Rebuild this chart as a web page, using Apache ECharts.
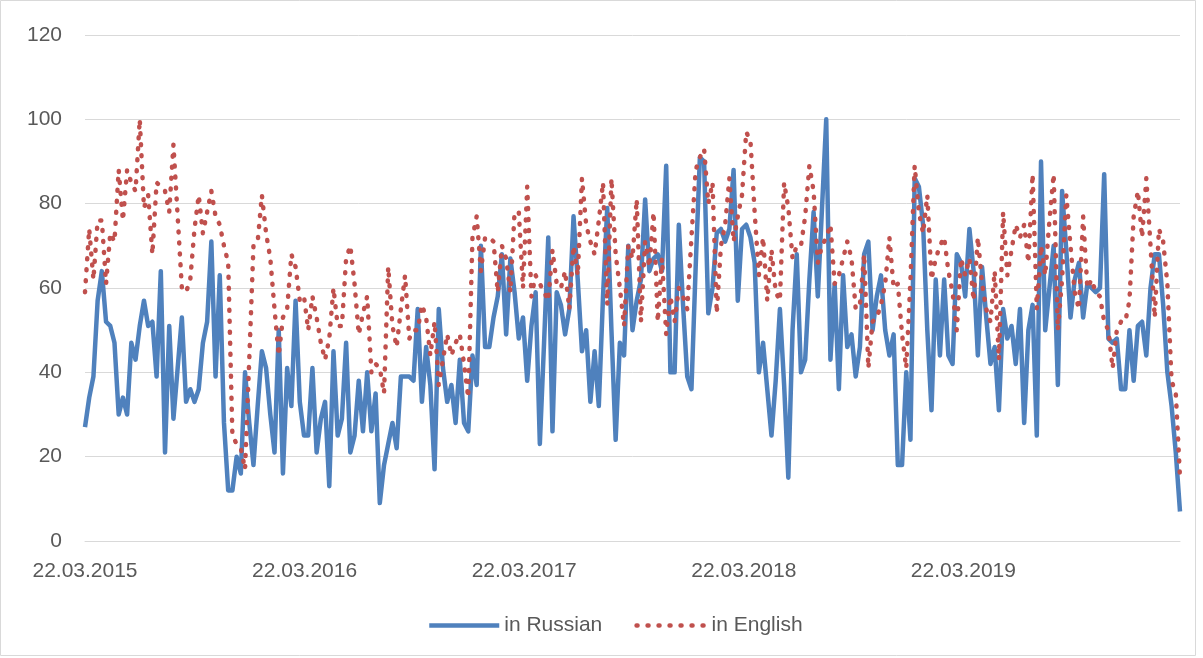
<!DOCTYPE html>
<html lang="en">
  <head>
    <meta charset="UTF-8" />
    <title>in Russian / in English</title>
    <script src="https://cdn.jsdelivr.net/npm/echarts@6/dist/echarts.min.js"></script>
    <style>
      html, body { margin: 0; padding: 0; background: #fff; }
    </style>
  </head>
  <body>
    <div id="main" style="width: 1203px; height: 658px"></div>
    <script type="text/javascript">
      // weekly values, first week 22.03.2015
      var ruValues = [
        27, 34, 39, 57, 64, 52, 51, 47, 30, 34, 30, 47, 43, 51, 57, 51, 52, 39, 64, 21,
        51, 29, 41, 53, 33, 36, 33, 36, 47, 52, 71, 39, 63, 28, 12, 12, 20, 16, 40, 28,
        18, 32, 45, 41, 30, 21, 50, 16, 41, 32, 57, 33, 25, 25, 41, 21, 29, 33, 13, 45,
        25, 29, 47, 21, 25, 38, 26, 40, 26, 35, 9, 18, 23, 28, 22, 39, 39, 39, 38, 55,
        33, 46, 37, 17, 55, 41, 33, 37, 28, 43, 28, 26, 44, 37, 70, 46, 46, 53, 58, 68,
        49, 67, 59, 48, 53, 38, 51, 59, 23, 47, 72, 26, 59, 56, 49, 55, 77, 62, 45, 50,
        33, 45, 32, 58, 79, 50, 24, 47, 44, 70, 50, 57, 62, 81, 64, 67, 68, 64, 89, 40,
        40, 75, 56, 39, 36, 65, 91, 90, 54, 60, 73, 74, 71, 74, 88, 57, 74, 75, 72, 66,
        40, 47, 36, 25, 38, 55, 37, 15, 50, 68, 40, 43, 62, 78, 58, 79, 100, 43, 61, 36,
        63, 46, 49, 39, 46, 68, 71, 50, 58, 63, 50, 44, 49, 18, 18, 40, 24, 86, 84, 75,
        50, 31, 62, 44, 62, 44, 42, 68, 66, 58, 74, 64, 44, 65, 53, 42, 46, 31, 55, 48,
        51, 42, 55, 28, 50, 56, 25, 90, 50, 60, 70, 37, 83, 69, 53, 62, 66, 53, 61, 60,
        59, 60, 87, 48, 47, 48, 36, 36, 50, 38, 51, 52, 44, 60, 68, 68, 56, 40, 32, 21,
        7
      ];
      var enValues = [
        59, 74, 62, 76, 76, 61, 73, 71, 88, 76, 88, 85, 83, 100, 79, 82, 68, 85, 84, 83,
        78, 94, 77, 60, 59, 62, 74, 82, 73, 78, 83, 77, 75, 70, 66, 25, 23, 22, 17, 43,
        70, 71, 82, 73, 67, 55, 44, 53, 55, 68, 65, 57, 58, 50, 58, 53, 47, 43, 48, 60,
        51, 51, 67, 70, 61, 49, 54, 58, 40, 42, 41, 35, 65, 51, 46, 55, 63, 48, 50, 50,
        56, 53, 44, 52, 37, 43, 49, 44, 47, 49, 42, 34, 72, 77, 64, 72, 72, 71, 59, 70,
        67, 59, 78, 78, 60, 84, 58, 63, 61, 59, 57, 69, 61, 60, 64, 55, 70, 63, 86, 75,
        71, 68, 76, 85, 56, 86, 68, 60, 51, 70, 67, 81, 52, 71, 65, 78, 52, 67, 49, 58,
        52, 60, 58, 55, 72, 88, 91, 93, 80, 85, 54, 70, 75, 86, 71, 77, 82, 97, 95, 78,
        63, 72, 57, 69, 59, 57, 85, 79, 67, 70, 70, 77, 89, 83, 66, 70, 72, 75, 61, 63,
        67, 71, 67, 55, 56, 68, 41, 52, 53, 56, 61, 72, 60, 61, 49, 41, 62, 89, 78, 73,
        82, 62, 67, 70, 72, 64, 59, 50, 67, 63, 67, 57, 72, 61, 55, 52, 64, 43, 78, 63,
        69, 75, 72, 75, 66, 87, 55, 70, 63, 76, 87, 50, 62, 82, 70, 59, 55, 77, 60, 62,
        59, 58, 52, 50, 41, 50, 52, 52, 57, 77, 83, 72, 86, 70, 53, 74, 71, 61, 38, 35,
        15
      ];
      var tickLabels = ["22.03.2015", "22.03.2016", "22.03.2017", "22.03.2018", "22.03.2019"];
      var seriesNames = ["in Russian", "in English"];

      // x = days since 22.03.2015 (one point per week)
      function toPoints(arr) {
        return arr.map(function (v, i) { return [i * 7, v]; });
      }

      var chartDom = document.getElementById("main");
      var myChart = echarts.init(chartDom);
      var textColor = "#595959";
      var font = "Liberation Sans, Arial, sans-serif";
      var blue = "#4f81bd";
      var red = "#c0504d";
      var dotted = [1, 10];

      var option = {
        animation: false,
        backgroundColor: "#fff",
        textStyle: { fontFamily: font },
        graphic: [
          {
            type: "rect",
            shape: { x: 0.5, y: 0.5, width: 1195, height: 655 },
            style: { fill: "none", stroke: "#d9d9d9", lineWidth: 1 },
            silent: true
          }
        ],
        grid: { left: 85, right: 23, top: 35, bottom: 117 },
        legend: {
          bottom: 17,
          left: 422,
          itemWidth: 70,
          itemHeight: 14,
          itemGap: 32,
          itemStyle: { color: "rgba(0,0,0,0)", borderWidth: 0 },
          textStyle: { color: textColor, fontSize: 21, fontFamily: font },
          data: [
            { name: seriesNames[0], lineStyle: { width: 4.5 } },
            { name: seriesNames[1], lineStyle: { width: 4.5, type: dotted, cap: "round" } }
          ]
        },
        xAxis: {
          type: "value",
          min: 0,
          max: 1820,
          interval: 365,
          splitLine: { show: false },
          axisTick: { show: false },
          axisLine: { show: true, lineStyle: { color: "#d9d9d9", width: 1 } },
          axisLabel: {
            color: textColor,
            fontSize: 21,
            margin: 20,
            showMaxLabel: false,
            formatter: function (v) {
              var k = Math.round(v / 365);
              return v % 365 === 0 && tickLabels[k] ? tickLabels[k] : "";
            }
          }
        },
        yAxis: {
          type: "value",
          min: 0,
          max: 120,
          interval: 20,
          axisLine: { show: false },
          axisTick: { show: false },
          splitLine: { lineStyle: { color: "#d9d9d9", width: 1 } },
          axisLabel: { color: textColor, fontSize: 21, margin: 23 }
        },
        series: [
          {
            name: seriesNames[0],
            type: "line",
            symbol: "none",
            data: toPoints(ruValues),
            itemStyle: { color: blue },
            lineStyle: { color: blue, width: 4.5, join: "round" }
          },
          {
            name: seriesNames[1],
            type: "line",
            symbol: "none",
            data: toPoints(enValues),
            itemStyle: { color: red },
            lineStyle: {
              color: red,
              width: 4.5,
              type: dotted,
              cap: "round",
              join: "round"
            }
          }
        ]
      };

      option && myChart.setOption(option);
    </script>
  </body>
</html>
